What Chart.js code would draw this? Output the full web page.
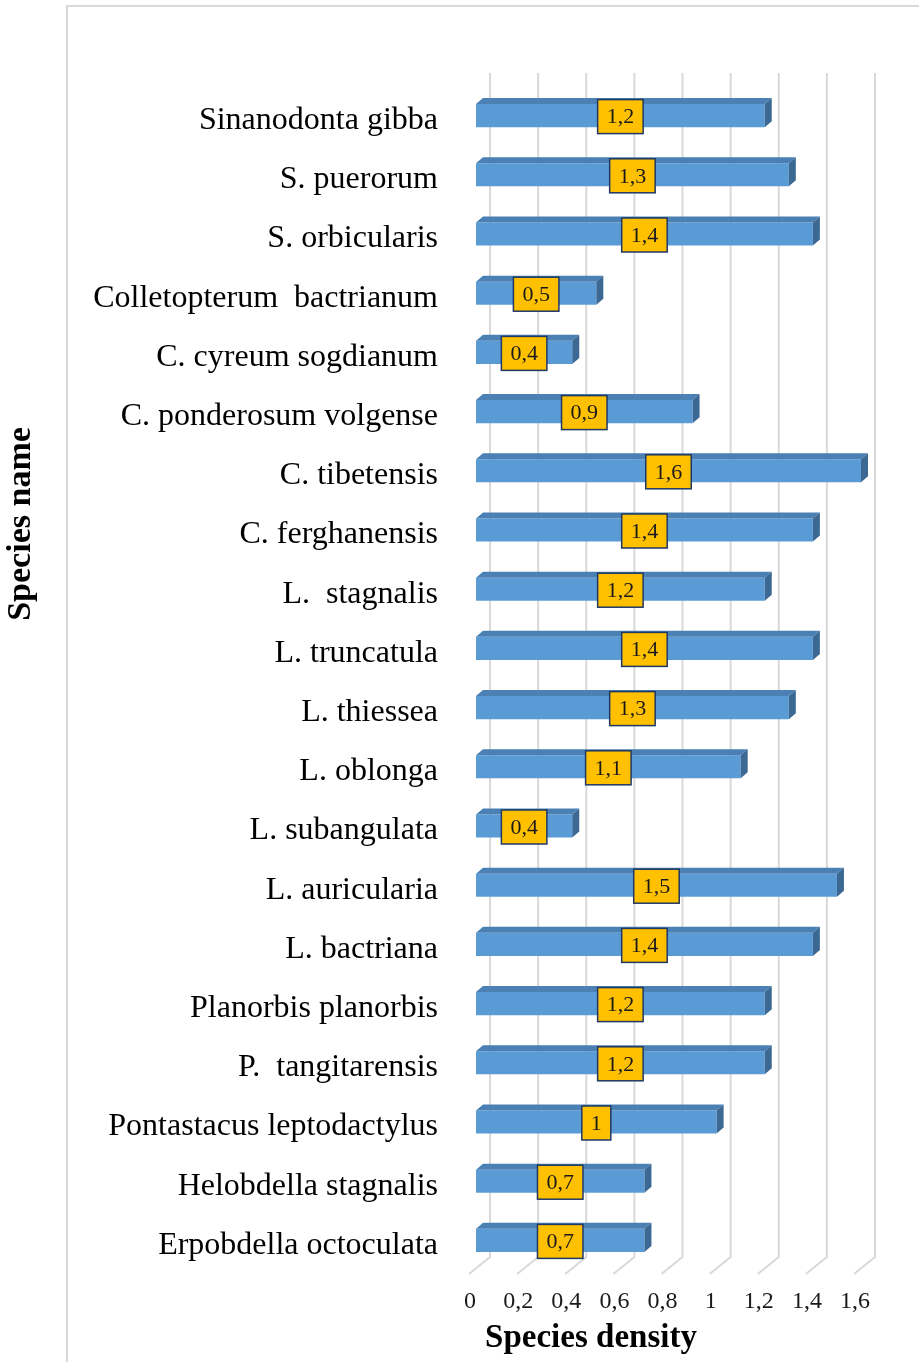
<!DOCTYPE html>
<html>
<head>
<meta charset="utf-8">
<script src="https://cdn.jsdelivr.net/npm/chart.js@4.4.1/dist/chart.umd.min.js"></script>
<style>
  html, body { margin: 0; padding: 0; background: #fff; }
  canvas { display: block; }
</style>
</head>
<body>
<canvas id="barChart" width="919" height="1362"></canvas>
<script>
  const categories = [
    'Sinanodonta gibba', 'S. puerorum', 'S. orbicularis', 'Colletopterum  bactrianum',
    'C. cyreum sogdianum', 'C. ponderosum volgense', 'C. tibetensis', 'C. ferghanensis',
    'L.  stagnalis', 'L. truncatula', 'L. thiessea', 'L. oblonga', 'L. subangulata',
    'L. auricularia', 'L. bactriana', 'Planorbis planorbis', 'P.  tangitarensis',
    'Pontastacus leptodactylus', 'Helobdella stagnalis', 'Erpobdella octoculata'
  ];
  const density = [1.2, 1.3, 1.4, 0.5, 0.4, 0.9, 1.6, 1.4, 1.2, 1.4, 1.3, 1.1, 0.4, 1.5, 1.4, 1.2, 1.2, 1, 0.7, 0.7];
  const tickLabels = ['0', '0,2', '0,4', '0,6', '0,8', '1', '1,2', '1,4', '1,6'];

  const depthX = 7, depthY = 6;   // bar depth
  const backX = 14, backY = 13;   // back wall offset for gridlines

  const fake3d = {
    id: 'fake3d',
    beforeDraw(chart) {
      const ctx = chart.ctx;
      const area = chart.chartArea;
      const xs = chart.scales.x;
      ctx.save();
      ctx.fillStyle = '#fff';
      ctx.fillRect(0, 0, chart.width, chart.height);
      // outer frame
      ctx.strokeStyle = '#d9d9d9';
      ctx.lineWidth = 2;
      ctx.beginPath();
      ctx.moveTo(67, chart.height);
      ctx.lineTo(67, 6);
      ctx.lineTo(chart.width, 6);
      ctx.stroke();
      // back wall grid + floor
      xs.ticks.forEach(t => {
        const px = xs.getPixelForValue(t.value);
        ctx.beginPath();
        ctx.moveTo(px + backX, area.top - backY);
        ctx.lineTo(px + backX, area.bottom - backY);
        ctx.lineTo(px - 7, area.bottom + 4);
        ctx.stroke();
      });
      ctx.restore();
    },
    afterDatasetsDraw(chart) {
      const ctx = chart.ctx;
      const meta = chart.getDatasetMeta(0);
      ctx.save();
      meta.data.forEach(bar => {
        const top = bar.y - bar.height / 2;
        const bottom = bar.y + bar.height / 2;
        const left = bar.base, right = bar.x;
        // top face
        ctx.fillStyle = '#4b80b4';
        ctx.beginPath();
        ctx.moveTo(left, top);
        ctx.lineTo(left + depthX, top - depthY);
        ctx.lineTo(right + depthX, top - depthY);
        ctx.lineTo(right, top);
        ctx.closePath();
        ctx.fill();
        // side face
        ctx.fillStyle = '#3c6894';
        ctx.beginPath();
        ctx.moveTo(right, top);
        ctx.lineTo(right + depthX, top - depthY);
        ctx.lineTo(right + depthX, bottom - depthY);
        ctx.lineTo(right, bottom);
        ctx.closePath();
        ctx.fill();
      });
      // value labels
      ctx.font = '22px "Liberation Serif"';
      ctx.textAlign = 'center';
      ctx.textBaseline = 'middle';
      meta.data.forEach((bar, i) => {
        const txt = String(density[i]).replace('.', ',');
        const w = ctx.measureText(txt).width + 18;
        const h = 34;
        const cx = (bar.base + bar.x) / 2;
        const cy = bar.y + 1;
        ctx.fillStyle = '#ffc000';
        ctx.fillRect(cx - w / 2, cy - h / 2, w, h);
        ctx.strokeStyle = '#1f3864';
        ctx.lineWidth = 1.5;
        ctx.strokeRect(cx - w / 2, cy - h / 2, w, h);
        ctx.fillStyle = '#1a1a1a';
        ctx.fillText(txt, cx, cy + 1);
      });
      ctx.restore();
    },
    afterDraw(chart) {
      const ctx = chart.ctx;
      ctx.save();
      ctx.fillStyle = '#000';
      ctx.textAlign = 'center';
      ctx.textBaseline = 'middle';
      ctx.font = 'bold 33px "Liberation Serif"';
      ctx.fillText('Species density', 591, 1338);
      ctx.font = 'bold 34px "Liberation Serif"';
      ctx.translate(21, 524);
      ctx.rotate(-Math.PI / 2);
      ctx.fillText('Species name', 0, 0);
      ctx.restore();
    }
  };

  const ctx1 = document.getElementById('barChart');
  new Chart(ctx1, {
    type: 'bar',
    data: {
      labels: categories,
      datasets: [{
        label: 'Species density',
        data: density,
        backgroundColor: '#5b9bd5',
        borderWidth: 0,
        barPercentage: 0.39,
        categoryPercentage: 1
      }]
    },
    options: {
      indexAxis: 'y',
      responsive: false,
      animation: false,
      events: [],
      layout: { padding: { top: 86, right: 58, left: 0, bottom: 0 } },
      plugins: { legend: { display: false }, tooltip: { enabled: false } },
      scales: {
        x: {
          min: 0,
          max: 1.6,
          grid: { display: false, drawTicks: false },
          border: { display: false },
          ticks: {
            stepSize: 0.2,
            padding: 17,
            labelOffset: -6,
            color: '#1a1a1a',
            font: { family: '"Liberation Serif"', size: 24 },
            callback: (v, i) => tickLabels[i]
          },
          afterFit: s => { s.height = 92; }
        },
        y: {
          grid: { display: false, drawTicks: false },
          border: { display: false },
          ticks: {
            autoSkip: false,
            padding: 38,
            labelOffset: 5,
            color: '#000',
            font: { family: '"Liberation Serif"', size: 32 }
          },
          afterFit: s => { s.width = 476; }
        }
      }
    },
    plugins: [fake3d]
  });
</script>
</body>
</html>
